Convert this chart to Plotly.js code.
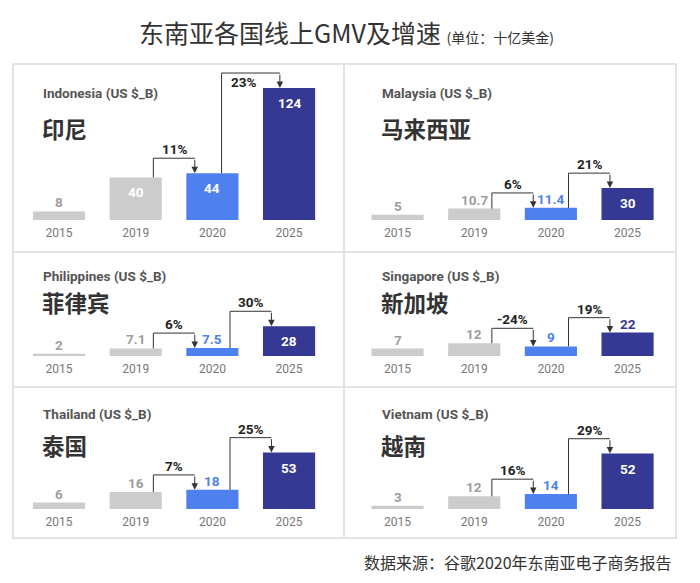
<!DOCTYPE html>
<html>
<head>
<meta charset="utf-8">
<script src="https://cdn.plot.ly/plotly-3.0.1.min.js"></script>
<style>
  html, body { margin: 0; padding: 0; background: #ffffff; }
  #chart { width: 700px; height: 583px; }
</style>
</head>
<body>
<div id="chart"></div>
<script>
/* ==========================================
   DATA
========================================== */

const years = ["2015", "2019", "2020", "2025"];

const countriesEn = ["Indonesia", "Malaysia", "Philippines", "Singapore", "Thailand", "Vietnam"];
const countriesZh = ["印尼", "马来西亚", "菲律宾", "新加坡", "泰国", "越南"];

const indonesiaGmv   = [8, 40, 44, 124];
const malaysiaGmv    = [5, 10.7, 11.4, 30];
const philippinesGmv = [2, 7.1, 7.5, 28];
const singaporeGmv   = [7, 12, 9, 22];
const thailandGmv    = [6, 16, 18, 53];
const vietnamGmv     = [3, 12, 14, 52];

const growthLabels = [
    ["11%", "23%"],
    ["6%", "21%"],
    ["6%", "30%"],
    ["-24%", "19%"],
    ["7%", "25%"],
    ["16%", "29%"]
];

const gmvByCountry = [indonesiaGmv, malaysiaGmv, philippinesGmv, singaporeGmv, thailandGmv, vietnamGmv];


/* ==========================================
   LAYOUT HELPERS
========================================== */

const W = 700, H = 583;
const PX = 1.065;                 // pixels per US$ billion, same in every panel
const barColors = ["#cccccc", "#cccccc", "#4f81ee", "#363993"];
const outsideLabelColors = ["#9e9e9e", "#9e9e9e", "#4f81ee", "#363993"];

const rows = [
    {base: 220, top: 64,  title: 93,  name: 128},
    {base: 356, top: 253, title: 276, name: 302},
    {base: 509, top: 388, title: 414, name: 445}
];

const cols = [
    {start: 20.7,  text: 42},
    {start: 359.2, text: 381}
];

const plotWidth = 306.7;

function px(x){ return x / W; }
function py(y){ return 1 - y / H; }

const FONT = "Roboto, 'Noto Sans', 'Noto Sans CJK SC', sans-serif";
const CJK = "'Noto Sans CJK SC', sans-serif";


/* ==========================================
   BUILD PANELS
========================================== */

let traces = [];
let shapes = [];
let annotations = [];
let layout = {
    width: W,
    height: H,
    margin: {l: 0, r: 0, t: 0, b: 0},
    paper_bgcolor: "#ffffff",
    plot_bgcolor: "rgba(0,0,0,0)",
    showlegend: false,
    bargap: 0.32,
    font: {family: FONT}
};

gmvByCountry.forEach((values, k)=>{

    const row = rows[Math.floor(k / 2)];
    const col = cols[k % 2];
    const id = k === 0 ? "" : String(k + 1);
    const xa = "x" + id, ya = "y" + id;
    const yMax = (row.base - row.top) / PX;

    traces.push({
        type: "bar",
        x: [0, 1, 2, 3],
        y: values,
        xaxis: xa,
        yaxis: ya,
        width: 0.68,
        marker: {color: barColors},
        hoverinfo: "skip"
    });

    layout["xaxis" + id] = {
        domain: [px(col.start), px(col.start + plotWidth)],
        range: [-0.5, 3.5],
        anchor: ya,
        tickvals: [0, 1, 2, 3],
        ticktext: years,
        ticks: "",
        showgrid: false,
        zeroline: false,
        showline: false,
        fixedrange: true,
        ticklabelstandoff: 4,
        tickfont: {size: 12, color: "#777777", family: FONT}
    };

    layout["yaxis" + id] = {
        domain: [py(row.base), py(row.top)],
        range: [0, yMax],
        anchor: xa,
        visible: false,
        fixedrange: true
    };

    // panel titles
    annotations.push({
        xref: "paper", yref: "paper",
        x: px(col.text - 1), y: py(row.title),
        xanchor: "left", yanchor: "middle",
        text: countriesEn[k] + " (US $_B)",
        showarrow: false,
        font: {size: 13.5, color: "#555555", family: FONT, weight: "bold"}
    });

    annotations.push({
        xref: "paper", yref: "paper",
        x: px(col.text - 2), y: py(row.name),
        xanchor: "left", yanchor: "middle",
        text: countriesZh[k],
        showarrow: false,
        font: {size: 22.5, color: "#333333", family: CJK, weight: "bold"}
    });

    // value labels
    values.forEach((v, i)=>{

        const inside = v * PX >= 28;

        annotations.push({
            xref: xa, yref: ya,
            x: i, y: v,
            yshift: inside ? -15 : 9,
            yanchor: "middle",
            text: String(v),
            showarrow: false,
            font: {size: 13.5, color: inside ? "#ffffff" : outsideLabelColors[i], family: FONT, weight: "bold"}
        });

    });

    // growth brackets 2019 -> 2020 and 2020 -> 2025
    [1, 2].forEach((from, j)=>{

        const to = j === 0 ? 2 : 3;
        const v1 = values[from], v2 = values[to];
        const topY = Math.max(v1, v2) + 14;
        const labelInside = topY * PX + 16 > yMax * PX;
        const off = labelInside ? 0.12 : 0.23;
        const xa1 = from + off, xa2 = to - off;

        shapes.push({
            type: "line", xref: xa, yref: ya,
            x0: xa1, x1: xa1, y0: v1, y1: topY,
            line: {color: "#333333", width: 1}
        });

        shapes.push({
            type: "line", xref: xa, yref: ya,
            x0: xa1, x1: xa2, y0: topY, y1: topY,
            line: {color: "#333333", width: 1}
        });

        annotations.push({
            xref: xa, yref: ya,
            x: xa2, y: v2,
            axref: xa, ayref: ya,
            ax: xa2, ay: topY,
            text: "",
            showarrow: true,
            arrowhead: 2,
            arrowsize: 1.3,
            arrowwidth: 1,
            arrowcolor: "#333333",
            standoff: 0
        });

        annotations.push({
            xref: xa, yref: ya,
            x: labelInside ? (xa1 + xa2) / 2 - 0.1 : (xa1 + xa2) / 2,
            y: topY,
            yshift: labelInside ? -9 : 9,
            yanchor: "middle",
            text: growthLabels[k][j],
            showarrow: false,
            font: {size: 13.5, color: "#222222", family: FONT, weight: "bold"}
        });

    });

});


/* ==========================================
   FRAME, TITLE, SOURCE
========================================== */

const frameLine = {color: "#e3e3e3", width: 2};

shapes.push({type: "rect", xref: "paper", yref: "paper",
    x0: px(13), x1: px(676), y0: py(538), y1: py(64), line: frameLine});
shapes.push({type: "line", xref: "paper", yref: "paper",
    x0: px(344), x1: px(344), y0: py(538), y1: py(64), line: frameLine});
shapes.push({type: "line", xref: "paper", yref: "paper",
    x0: px(13), x1: px(676), y0: py(252), y1: py(252), line: frameLine});
shapes.push({type: "line", xref: "paper", yref: "paper",
    x0: px(13), x1: px(676), y0: py(387), y1: py(387), line: frameLine});

annotations.push({
    xref: "paper", yref: "paper",
    x: px(346), y: py(32),
    xanchor: "center", yanchor: "middle",
    text: "东南亚各国线上GMV及增速&nbsp;<span style=\"font-size:14px\">(单位：十亿美金)</span>",
    showarrow: false,
    font: {size: 25, color: "#333333", family: CJK}
});

annotations.push({
    xref: "paper", yref: "paper",
    x: px(674), y: py(562),
    xanchor: "right", yanchor: "middle",
    text: "数据来源：谷歌2020年东南亚电子商务报告",
    showarrow: false,
    font: {size: 16, color: "#333333", family: CJK}
});

layout.shapes = shapes;
layout.annotations = annotations;

Plotly.newPlot("chart", traces, layout, {displayModeBar: false, staticPlot: true});
</script>
</body>
</html>
